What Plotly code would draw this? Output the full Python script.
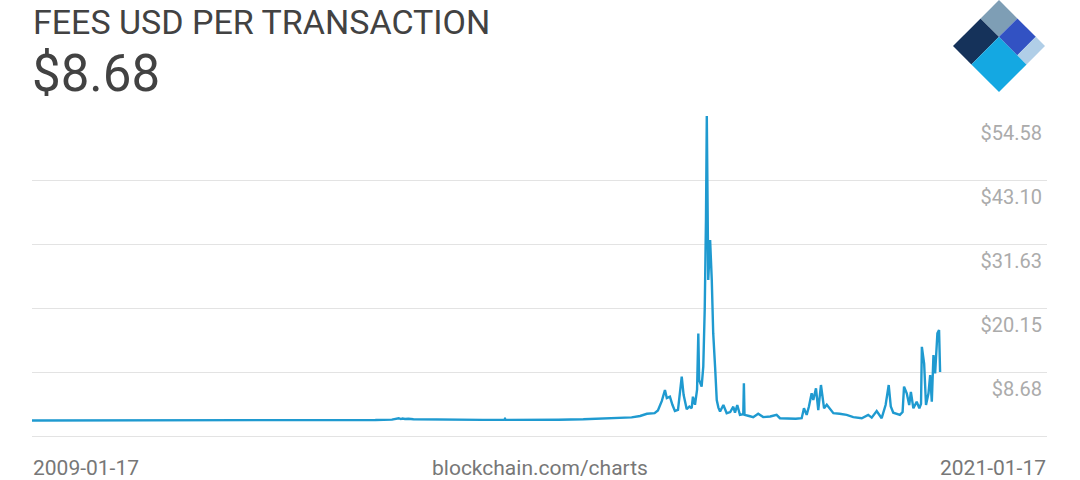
import plotly.graph_objects as go

# ---------------- data ----------------
dates = [
    "2009-01-17", "2009-09-01", "2010-06-01", "2011-03-01", "2011-06-10", "2011-09-01",
    "2012-06-01", "2012-12-01", "2013-04-10", "2013-08-01", "2013-10-20", "2013-11-22",
    "2013-12-02", "2013-12-10", "2013-12-22", "2014-01-08", "2014-02-01", "2014-04-01",
    "2014-08-01", "2015-01-01", "2015-04-15", "2015-04-19", "2015-04-23", "2015-09-01",
    "2016-01-01", "2016-05-01", "2016-08-01", "2016-11-01", "2016-12-20", "2017-01-30",
    "2017-03-04", "2017-04-10", "2017-04-26", "2017-05-15", "2017-05-30", "2017-06-08",
    "2017-06-23", "2017-07-05", "2017-07-17", "2017-08-01", "2017-08-19", "2017-08-28",
    "2017-09-12", "2017-09-25", "2017-10-06", "2017-10-12", "2017-10-22", "2017-11-01",
    "2017-11-07", "2017-11-11", "2017-11-23", "2017-12-01", "2017-12-08", "2017-12-14",
    "2017-12-18", "2017-12-25", "2018-01-03", "2018-01-11", "2018-01-18", "2018-01-27",
    "2018-02-04", "2018-02-12", "2018-02-20", "2018-03-08", "2018-03-24", "2018-04-10",
    "2018-04-25", "2018-05-03", "2018-05-14", "2018-05-27", "2018-06-12", "2018-06-15",
    "2018-06-18", "2018-07-10", "2018-07-30", "2018-08-23", "2018-09-16", "2018-10-20",
    "2018-11-20", "2018-12-06", "2019-01-24", "2019-02-20", "2019-03-21", "2019-04-01",
    "2019-04-14", "2019-04-25", "2019-05-08", "2019-05-16", "2019-05-29", "2019-06-09",
    "2019-06-22", "2019-07-07", "2019-07-20", "2019-08-05", "2019-08-21", "2019-09-20",
    "2019-10-24", "2019-11-25", "2020-01-05", "2020-02-05", "2020-02-22", "2020-03-17",
    "2020-04-10", "2020-04-29", "2020-05-14", "2020-05-24", "2020-06-05", "2020-07-07",
    "2020-07-20", "2020-07-27", "2020-08-09", "2020-08-21", "2020-08-29", "2020-09-10",
    "2020-09-26", "2020-10-09", "2020-10-17", "2020-10-21", "2020-11-01", "2020-11-10",
    "2020-11-22", "2020-11-30", "2020-12-08", "2020-12-16", "2020-12-24", "2021-01-04",
    "2021-01-12", "2021-01-17",
]
fees_usd = [
    0.0, 0.0, 0.0, 0.01, 0.03, 0.02,
    0.03, 0.05, 0.10, 0.08, 0.15, 0.40,
    0.25, 0.35, 0.25, 0.30, 0.22, 0.18,
    0.12, 0.10, 0.10, 0.30, 0.10, 0.08,
    0.12, 0.20, 0.30, 0.40, 0.55, 0.80,
    1.20, 1.30, 1.80, 3.50, 5.45, 4.00,
    4.25, 2.80, 1.70, 1.90, 7.84, 4.60,
    2.00, 2.50, 2.20, 4.25, 2.80, 5.50,
    15.60, 7.25, 6.05, 9.63, 20.00, 36.00,
    54.58, 25.20, 32.35, 25.20, 15.60, 9.60,
    3.66, 2.30, 1.60, 2.76, 1.30, 1.50,
    2.46, 1.38, 2.76, 1.00, 1.10, 6.65,
    1.00, 0.80, 0.58, 1.20, 0.60, 0.70,
    1.00, 0.40, 0.30, 0.30, 0.40, 2.17,
    1.00, 2.50, 4.86, 3.66, 5.75, 1.87,
    6.35, 2.17, 2.80, 2.00, 1.30, 1.20,
    1.00, 0.60, 0.40, 1.00, 0.50, 1.70,
    0.40, 2.76, 6.35, 2.50, 1.38, 1.00,
    1.50, 6.05, 4.86, 2.76, 5.10, 2.17,
    3.36, 2.17, 3.00, 13.20, 10.20, 2.76,
    4.86, 8.14, 3.36, 11.73, 8.45, 15.60,
    16.20, 8.68,
]
y_ticks = [8.68, 20.15, 31.63, 43.10, 54.58]
y_tick_labels = ["$8.68", "$20.15", "$31.63", "$43.10", "$54.58"]
x_labels = ["2009-01-17", "2021-01-17"]
title_text = "FEES USD PER TRANSACTION"
current_value = "$8.68"
source_text = "blockchain.com/charts"

# ---------------- layout geometry ----------------
W, H = 1080, 480
ML, MR, MT, MB = 32, 33, 116, 44
PW, PH = W - ML - MR, H - MT - MB
step = y_ticks[1] - y_ticks[0]
y_range = [y_ticks[0] - step, y_ticks[-1]]
x_range = ["2009-01-17", "2022-06-17"]


def paper(px, py):
    return (px - ML) / PW, (H - MB - py) / PH


FONT = "Roboto"

fig = go.Figure()
fig.add_trace(go.Scatter(
    x=dates, y=fees_usd, mode="lines",
    line=dict(color="#1f9ad0", width=2.4),
    hoverinfo="skip", showlegend=False,
))

fig.update_layout(
    width=W, height=H,
    margin=dict(l=ML, r=MR, t=MT, b=MB, pad=0),
    paper_bgcolor="white", plot_bgcolor="white",
    font=dict(family=FONT),
    showlegend=False,
    xaxis=dict(
        type="date", range=x_range, showgrid=False, zeroline=False,
        showticklabels=False, ticks="",
        showline=True, linecolor="#e3e3e3", linewidth=1,
    ),
    yaxis=dict(
        range=y_range, side="right",
        tickmode="array", tickvals=y_ticks, ticktext=y_tick_labels,
        showgrid=True, gridcolor="#e3e3e3", gridwidth=1,
        zeroline=False, showline=False, ticks="",
        ticklabelposition="inside", ticklabelshift=17, ticklabelstandoff=2,
        tickfont=dict(family=FONT, size=20, color="#ababab"),
    ),
)

# title texts
fig.add_annotation(
    text=title_text, xref="paper", yref="paper",
    x=paper(31, 0)[0], y=paper(0, 22)[1], xanchor="left", yanchor="middle",
    showarrow=False, font=dict(family=FONT, size=34, color="#424242"),
)
fig.add_annotation(
    text=current_value, xref="paper", yref="paper",
    x=paper(30, 0)[0], y=paper(0, 74)[1], xanchor="left", yanchor="middle",
    showarrow=False, font=dict(family=FONT, size=51, color="#424242"),
)

# bottom labels
for txt, xp, anchor in [(x_labels[0], 0, "left"), (source_text, 0.5, "center"),
                        (x_labels[1], 1, "right")]:
    fig.add_annotation(
        text=txt, xref="paper", yref="paper", x=xp, y=paper(0, 468)[1],
        xanchor=anchor, yanchor="middle", showarrow=False, borderpad=0,
        font=dict(family=FONT, size=21, color="#777777"),
    )

# logo (diamond made of five tiles)
Lx, Ly = 953, 46
ux, uy = 46, -46   # towards top vertex
vx, vy = 46, 46    # towards bottom vertex
tiles = [
    ((0.0, 0.6), (0.0, 0.4), "#15325a"),
    ((0.6, 1.0), (0.0, 0.4), "#7e9eb5"),
    ((0.0, 0.6), (0.4, 1.0), "#14a8e2"),
    ((0.6, 1.0), (0.4, 0.8), "#3252c3"),
    ((0.6, 1.0), (0.8, 1.0), "#b0cee7"),
]
for (s0, s1), (t0, t1), col in tiles:
    pts = []
    for s, t in [(s0, t0), (s1, t0), (s1, t1), (s0, t1)]:
        px = Lx + s * ux + t * vx
        py = Ly + s * uy + t * vy
        pts.append(paper(px, py))
    path = "M " + " L ".join(f"{a:.5f},{b:.5f}" for a, b in pts) + " Z"
    fig.add_shape(type="path", path=path, xref="paper", yref="paper",
                  fillcolor=col, line=dict(width=0), layer="above")

fig.write_html("out.html", config={"displayModeBar": False},
               post_script="document.body.style.margin='0px';")
